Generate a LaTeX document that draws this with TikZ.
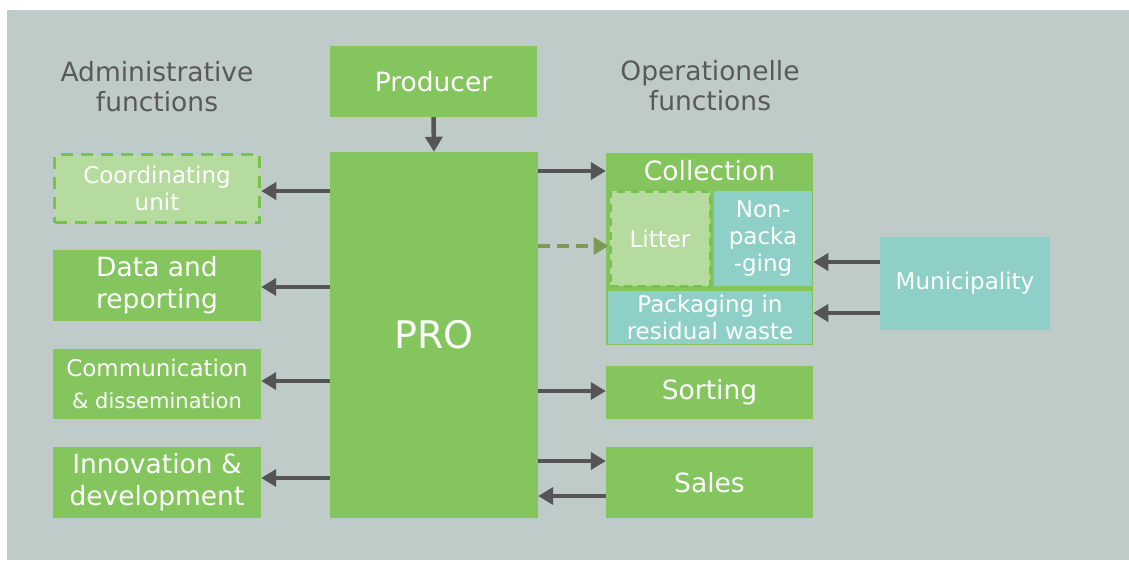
\documentclass[tikz,border=0pt]{standalone}
\usepackage{fontspec}
\setmainfont{DejaVu Sans}
\usetikzlibrary{arrows.meta}
\definecolor{bg}{HTML}{BFCBC8}
\definecolor{gr}{HTML}{84C55E}
\definecolor{dgr}{HTML}{78C250}
\definecolor{lgr}{HTML}{B5DC9E}
\definecolor{teal}{HTML}{8ECFC7}
\definecolor{arrc}{HTML}{555555}
\definecolor{dashc}{HTML}{7D9A54}
\definecolor{headc}{HTML}{595959}
\tikzset{
  box/.style={rectangle, inner sep=0pt, fill=gr, text=white, align=center, font=\fontsize{26.5}{32}\selectfont},
  smallbox/.style={box, font=\fontsize{23}{27}\selectfont},
  dashbox/.style={smallbox, fill=lgr, draw=dgr, line width=3.5pt, dash pattern=on 12pt off 8pt},
  tealbox/.style={smallbox, fill=teal, draw=gr, line width=1.5pt},
  head/.style={text=headc, align=center, font=\fontsize{26.5}{30}\selectfont},
  arr/.style={draw=arrc, line width=4.5pt, -{Triangle[length=15pt,width=17pt]}},
  darr/.style={draw=dashc, line width=4.5pt, dash pattern=on 12pt off 7pt, -{Triangle[length=15pt,width=17pt]}}
}
\begin{document}
\begin{tikzpicture}[x=1pt,y=-1pt]
\useasboundingbox (0,0) rectangle (1129,560);
\fill[bg] (7,10) rectangle (1129,560);
\node[head] (admin) at (157,87) {Administrative\\functions};
\node[head] (oper) at (710,86) {Operationelle\\functions};
\node[box, minimum width=207pt, minimum height=71pt] (prod) at (433.5,81.5) {Producer};
\node[box, minimum width=208pt, minimum height=366pt, font=\fontsize{38}{42}\selectfont] (pro) at (434,335) {PRO};
\node[dashbox, minimum width=205pt, minimum height=68pt] (coord) at (157,188.5) {Coordinating\\unit};
\node[box, minimum width=208pt, minimum height=71pt] (data) at (157,285.5) {Data and\\reporting};
\node[box, minimum width=208pt, minimum height=70pt] (comm) at (157,384) {{\fontsize{23}{27}\selectfont Communication}\\{\fontsize{21}{25}\selectfont \& dissemination}};
\node[box, minimum width=208pt, minimum height=71pt] (innov) at (157,482.5) {Innovation \&\\development};
\node[box, minimum width=207pt, minimum height=192pt] (coll) at (709.5,249) {};
\node[box, anchor=center] (colltxt) at (709.5,171) {Collection};
\node[dashbox, line width=3pt, dash pattern=on 8pt off 6pt, minimum width=100pt, minimum height=95pt] (litter) at (660,238.5) {Litter};
\node[tealbox, minimum width=99pt, minimum height=96pt] (nonp) at (763,238.5) {Non-\\packa\\-ging};
\node[tealbox, minimum width=205pt, minimum height=54pt] (pack) at (710,317.5) {Packaging in\\residual waste};
\node[box, fill=teal, font=\fontsize{23}{27}\selectfont, minimum width=170pt, minimum height=93pt] (muni) at (965,283.5) {Municipality};
\node[box, minimum width=207pt, minimum height=53pt] (sort) at (709.5,392.5) {Sorting};
\node[box, minimum width=207pt, minimum height=71pt] (sales) at (709.5,482.5) {Sales};
% arrows
\draw[arr] (prod.south) -- (pro.north);
\draw[arr] (pro.west |- 0,191) -- (coord.east |- 0,191);
\draw[arr] (pro.west |- 0,287) -- (data.east |- 0,287);
\draw[arr] (pro.west |- 0,381) -- (comm.east |- 0,381);
\draw[arr] (pro.west |- 0,478) -- (innov.east |- 0,478);
\draw[arr] (pro.east |- 0,171) -- (coll.west |- 0,171);
\draw[darr] (pro.east |- 0,246) -- (litter.west |- 0,246);
\draw[arr] (muni.west |- 0,262) -- (nonp.east |- 0,262);
\draw[arr] (muni.west |- 0,313) -- (pack.east |- 0,313);
\draw[arr] (pro.east |- 0,391) -- (sort.west |- 0,391);
\draw[arr] (pro.east |- 0,461) -- (sales.west |- 0,461);
\draw[arr] (sales.west |- 0,496) -- (pro.east |- 0,496);
\end{tikzpicture}
\end{document}
